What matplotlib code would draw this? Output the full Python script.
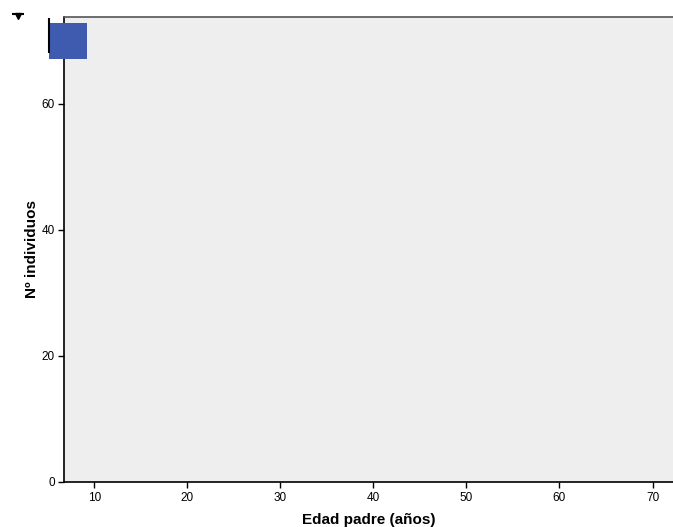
import numpy as np
import matplotlib.pyplot as plt

plt.rcParams['font.family'] = ['Liberation Sans', 'DejaVu Sans']

# histogram bar visible in the frame (clipped view)
bar_left = [5.1]
bar_right = [9.25]
bar_bottom = [67.2]
bar_top = [72.9]

# stray mark at the top left
mark_x = [1.76]
mark_y = [74.0]
line_x = [5.1]
line_y0 = [68.1]
line_y1 = [73.6]

xticks = [10, 20, 30, 40, 50, 60, 70]
yticks = [0, 20, 40, 60]

fig = plt.figure(figsize=(6.73, 5.27), dpi=100)
ax = fig.add_axes([63.7 / 673, 45 / 527, 1 - 63.7 / 673, (482 - 17) / 527])
ax.set_facecolor('#eeeeee')

for l, r, b, t in zip(bar_left, bar_right, bar_bottom, bar_top):
    ax.bar(l, t - b, width=r - l, bottom=b, align='edge',
           color='#3e5baf', linewidth=0, clip_on=False, zorder=3)
ax.vlines(line_x, line_y0, line_y1, color='black', linewidth=1.5, clip_on=False, zorder=4)
ax.plot(mark_x, mark_y, marker='v', color='black', markersize=5, clip_on=False, zorder=4)
ax.plot(mark_x, [v + 0.35 for v in mark_y], marker='_', color='black',
        markersize=8, markeredgewidth=1.5, clip_on=False, zorder=4)

ax.set_xlim(6.71, 72.2)
ax.set_ylim(0, 73.8)
ax.set_xticks(xticks)
ax.set_yticks(yticks)
ax.tick_params(labelsize=8.5, length=4.5, width=1, direction='out', pad=2)
ax.tick_params(axis='x', pad=3)

ax.spines['left'].set_linewidth(1.2)
ax.spines['bottom'].set_linewidth(1.2)
ax.spines['top'].set_color('#555555')
ax.spines['top'].set_linewidth(1.2)
ax.spines['right'].set_visible(False)

ax.set_xlabel('Edad padre (años)', fontsize=11, fontweight='bold', labelpad=6)
ax.set_ylabel('Nº individuos', fontsize=11, fontweight='bold', labelpad=2)

fig.savefig('out.png', dpi=100)
